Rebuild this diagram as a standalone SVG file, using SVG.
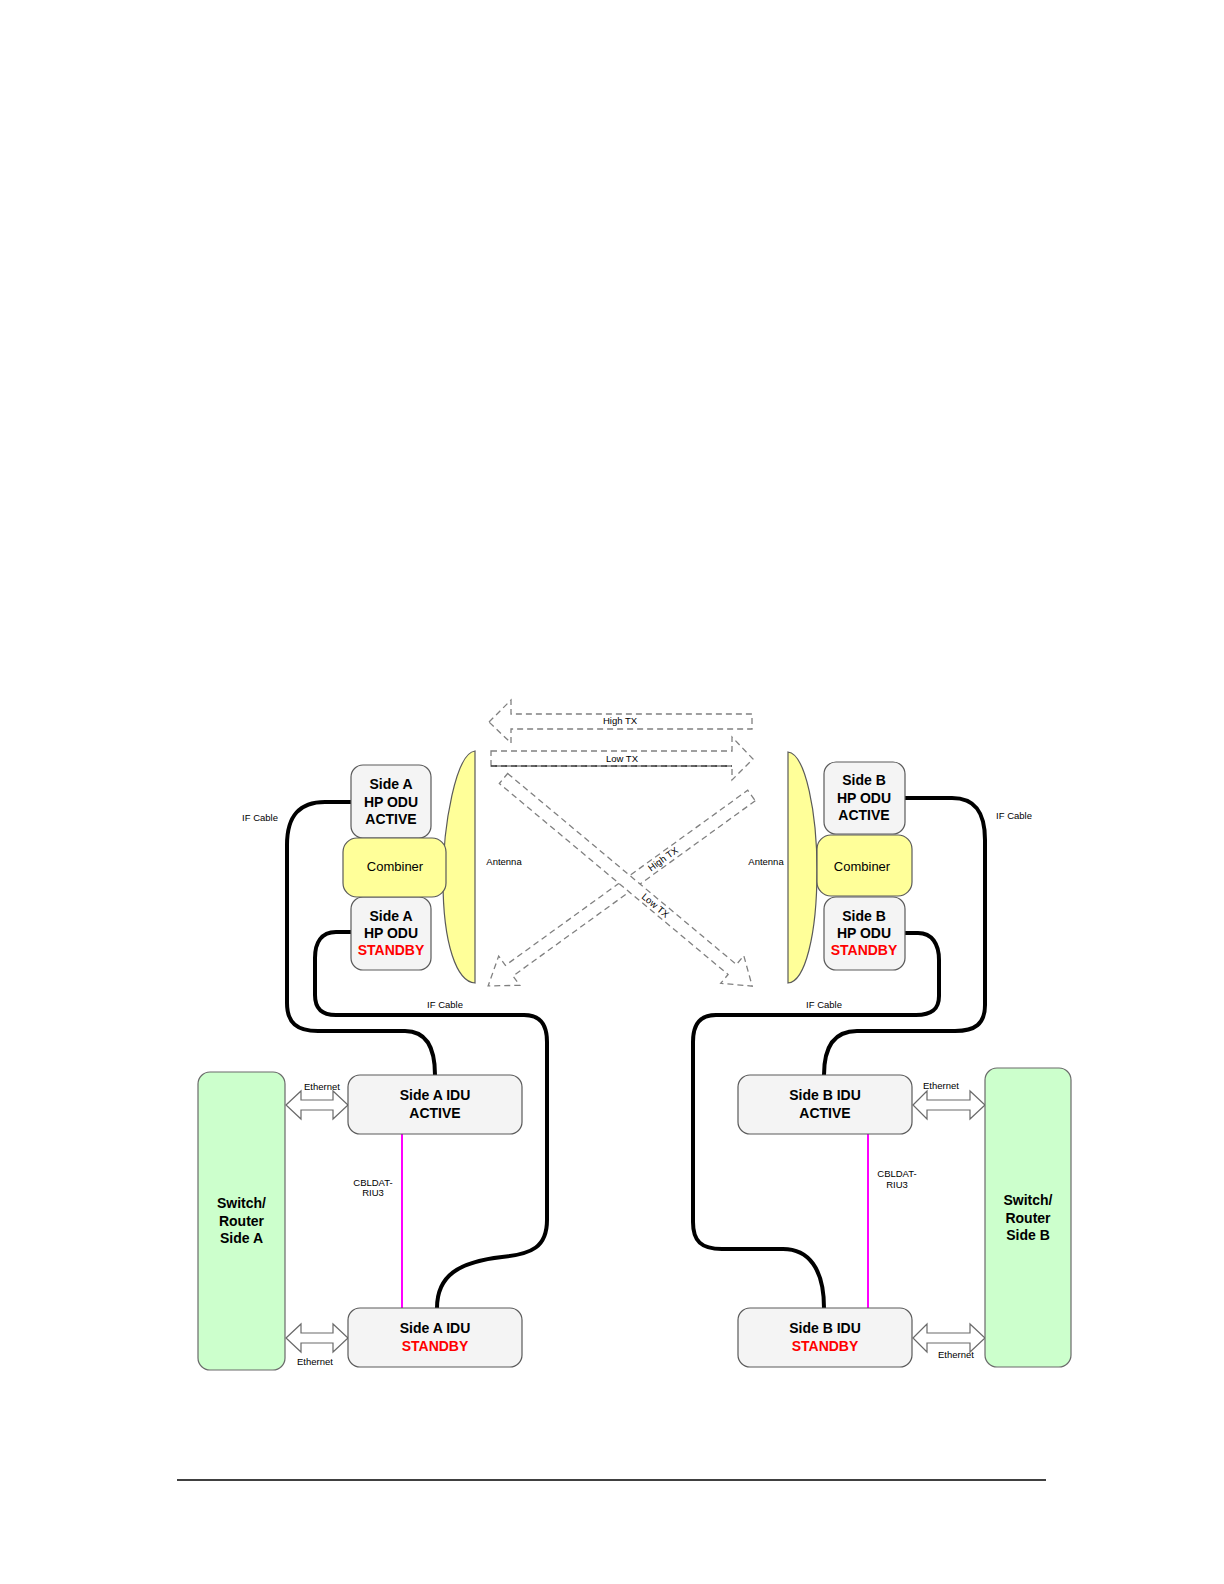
<svg xmlns="http://www.w3.org/2000/svg" width="1224" height="1584" viewBox="0 0 1224 1584">
<style>
text{font-family:"Liberation Sans",Arial,sans-serif;fill:#000}
.b{font-weight:bold;font-size:14px;text-anchor:middle}
.r{fill:#ff0000}
.s{font-size:9.5px;text-anchor:middle}
.c{font-size:13px;text-anchor:middle}
.box{fill:#f4f4f4;stroke:#5a5a5a;stroke-width:1.2}
.comb{fill:#ffff99;stroke:#5a5a5a;stroke-width:1.2}
.sw{fill:#ccffcc;stroke:#6a6a6a;stroke-width:1.2}
.ant{fill:#ffff99;stroke:#5a5a5a;stroke-width:1.2}
.cable{fill:none;stroke:#000;stroke-width:4;stroke-linecap:round}
.mag{stroke:#ff00ff;stroke-width:2}
.dash{fill:#fff;stroke:#808080;stroke-width:1.3;stroke-dasharray:6,4}
.eth{fill:#fff;stroke:#6a6a6a;stroke-width:1.2}
</style>
<rect width="1224" height="1584" fill="#fff"/>

<g id="radio-links">
<polygon class="dash" points="489,722 511,700 511,714 752,714 752,729 511,729 511,743"/>
<text class="s" x="620" y="724">High TX</text>
<polygon class="dash" points="491,751 732,751 732,737 753,759 732,780 732,766 491,766"/>
<line x1="491" y1="766" x2="732" y2="766" stroke="#333" stroke-width="1.3" stroke-dasharray="6,4"/>
<text class="s" x="622" y="762">Low TX</text>
<g transform="translate(751.5,795.5) rotate(144.13)">
<polygon class="dash" points="0,-6.5 299,-6.5 299,-18 325,0 299,18 299,6.5 0,6.5"/>
</g>
<text class="s" transform="translate(663,859) rotate(-35.87)" x="0" y="3.3">High TX</text>
<g transform="translate(503.5,778.5) rotate(39.86)">
<polygon class="dash" points="0,-6.5 298,-6.5 298,-18 324,0 298,18 298,6.5 0,6.5"/>
<text class="s" x="198" y="3.3">Low TX</text>
</g>
</g>

<g id="antenna-a">
<path class="ant" d="M475,751 C456,753 443,825 443,880 C443,945 457,982 475,983 Z"/>
<text class="s" x="504" y="865">Antenna</text>
</g>
<g id="antenna-b">
<path class="ant" d="M788,752 C806,754 817,815 817,870 C817,935 805,982 788,983 Z"/>
<text class="s" x="766" y="865">Antenna</text>
</g>

<g id="connectors">
<path class="cable" d="M351,802 H325 C300,802 287,815 287,845 V1003 C287,1023 297,1031 318,1031 H405 C426,1031 435,1047 435,1075"/>
<path class="cable" d="M351,932 H336 C321,932 315,943 315,958 V995 C315,1009 322,1015 336,1015 H524 C540,1015 547,1024 547,1042 V1220 C547,1247 532,1254 502,1257 C458,1262 437,1276 437,1308"/>
<path class="cable" d="M905,798 H952 C975,798 985,812 985,840 V1005 C985,1024 975,1031 955,1031 H857 C834,1031 824,1047 824,1075"/>
<path class="cable" d="M905,933 H918 C932,933 939,944 939,960 V996 C939,1009 932,1015 916,1015 H716 C700,1015 693,1024 693,1042 V1222 C693,1241 701,1249 722,1249 H783 C808,1249 824,1268 824,1308"/>
<line class="mag" x1="402" y1="1134" x2="402" y2="1308"/>
<line class="mag" x1="868" y1="1134" x2="868" y2="1308"/>
<polygon class="eth" points="286,1105 301,1091 301,1100 333,1100 333,1091 348,1105 333,1119 333,1110 301,1110 301,1119"/>
<polygon class="eth" points="286,1338 301,1324 301,1333 333,1333 333,1324 348,1338 333,1352 333,1343 301,1343 301,1352"/>
<polygon class="eth" points="913,1105 927,1091 927,1100 970,1100 970,1091 985,1105 970,1119 970,1110 927,1110 927,1119"/>
<polygon class="eth" points="913,1338 927,1324 927,1333 970,1333 970,1324 985,1338 970,1352 970,1343 927,1343 927,1352"/>
<text class="s" x="260" y="821">IF Cable</text>
<text class="s" x="1014" y="819">IF Cable</text>
<text class="s" x="445" y="1008">IF Cable</text>
<text class="s" x="824" y="1008">IF Cable</text>
<text class="s" x="322" y="1090">Ethernet</text>
<text class="s" x="315" y="1365">Ethernet</text>
<text class="s" x="941" y="1089">Ethernet</text>
<text class="s" x="956" y="1358">Ethernet</text>
<text class="s" x="373" y="1186">CBLDAT-</text>
<text class="s" x="373" y="1196">RIU3</text>
<text class="s" x="897" y="1177">CBLDAT-</text>
<text class="s" x="897" y="1188">RIU3</text>
</g>

<g id="odu-a-active">
<rect class="box" x="351" y="765" width="80" height="73" rx="12"/>
<text class="b" x="391" y="789">Side A</text>
<text class="b" x="391" y="806.5">HP ODU</text>
<text class="b" x="391" y="824">ACTIVE</text>
</g>
<g id="odu-a-standby">
<rect class="box" x="351" y="897" width="80" height="73" rx="12"/>
<text class="b" x="391" y="921">Side A</text>
<text class="b" x="391" y="938">HP ODU</text>
<text class="b r" x="391" y="955">STANDBY</text>
</g>
<g id="combiner-a">
<rect class="comb" x="343" y="838" width="103" height="59" rx="14"/>
<text class="c" x="395" y="871">Combiner</text>
</g>

<g id="odu-b-active">
<rect class="box" x="824" y="762" width="81" height="72" rx="12"/>
<text class="b" x="864" y="785">Side B</text>
<text class="b" x="864" y="802.5">HP ODU</text>
<text class="b" x="864" y="820">ACTIVE</text>
</g>
<g id="odu-b-standby">
<rect class="box" x="824" y="897" width="81" height="73" rx="12"/>
<text class="b" x="864" y="921">Side B</text>
<text class="b" x="864" y="938">HP ODU</text>
<text class="b r" x="864" y="955">STANDBY</text>
</g>
<g id="combiner-b">
<rect class="comb" x="817" y="835" width="95" height="61" rx="14"/>
<text class="c" x="862" y="871">Combiner</text>
</g>

<g id="idu-a-active">
<rect class="box" x="348" y="1075" width="174" height="59" rx="12"/>
<text class="b" x="435" y="1100">Side A IDU</text>
<text class="b" x="435" y="1118">ACTIVE</text>
</g>
<g id="idu-a-standby">
<rect class="box" x="348" y="1308" width="174" height="59" rx="12"/>
<text class="b" x="435" y="1333">Side A IDU</text>
<text class="b r" x="435" y="1351">STANDBY</text>
</g>
<g id="idu-b-active">
<rect class="box" x="738" y="1075" width="174" height="59" rx="12"/>
<text class="b" x="825" y="1100">Side B IDU</text>
<text class="b" x="825" y="1118">ACTIVE</text>
</g>
<g id="idu-b-standby">
<rect class="box" x="738" y="1308" width="174" height="59" rx="12"/>
<text class="b" x="825" y="1333">Side B IDU</text>
<text class="b r" x="825" y="1351">STANDBY</text>
</g>

<g id="switch-a">
<rect class="sw" x="198" y="1072" width="87" height="298" rx="12"/>
<text class="b" x="241.5" y="1208">Switch/</text>
<text class="b" x="241.5" y="1225.5">Router</text>
<text class="b" x="241.5" y="1243">Side A</text>
</g>
<g id="switch-b">
<rect class="sw" x="985" y="1068" width="86" height="299" rx="12"/>
<text class="b" x="1028" y="1205">Switch/</text>
<text class="b" x="1028" y="1222.5">Router</text>
<text class="b" x="1028" y="1240">Side B</text>
</g>

<line x1="177" y1="1480" x2="1046" y2="1480" stroke="#000" stroke-width="1.3"/>
</svg>
